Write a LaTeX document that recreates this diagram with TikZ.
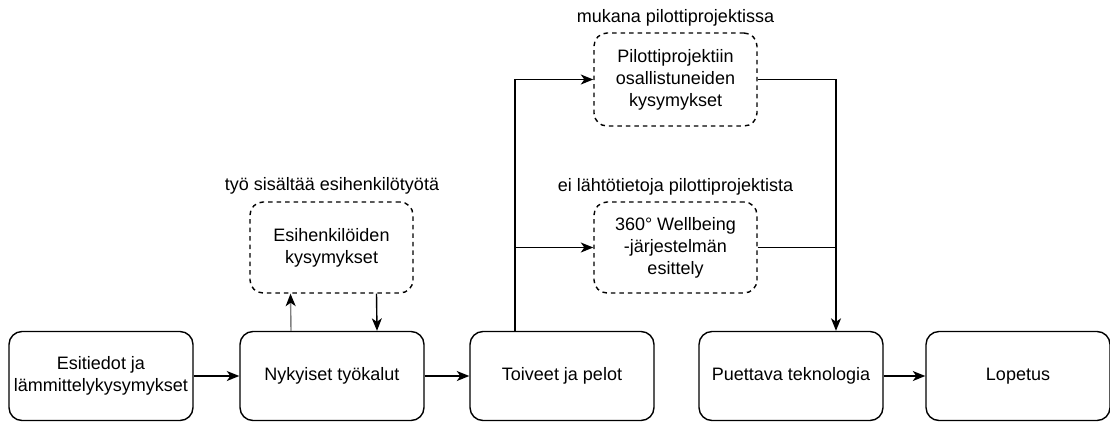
\documentclass[tikz,border=0pt]{standalone}
\usepackage{fontspec}
\setmainfont{Liberation Sans}
\usetikzlibrary{arrows.meta}
\definecolor{arrgray}{RGB}{128,128,128}
\begin{document}
\begin{tikzpicture}[x=1pt,y=-1pt,
  every node/.style={font=\fontsize{18pt}{22pt}\selectfont, align=center},
  mainbox/.style={draw, line width=1.4pt, rounded corners=13pt, minimum width=184pt, minimum height=89pt, inner sep=0pt},
  dbox/.style={draw, line width=1.4pt, dash pattern=on 4.5pt off 4pt, rounded corners=13pt, minimum width=163pt, minimum height=91pt, inner sep=0pt},
  lbl/.style={inner sep=0pt},
  arr/.style={line width=1.4pt, -{Stealth[length=12.5pt,width=10pt,inset=3.5pt]}},
  ln/.style={line width=1.4pt},
  grayarr/.style={line width=1.4pt, draw=arrgray, -{Stealth[length=12.5pt,width=10pt,inset=3.5pt,color=black]}}
]
\useasboundingbox (0,0) rectangle (1110,421);
% main boxes
\node[mainbox] (b1) at (101,376) {Esitiedot ja\\lämmittelykysymykset};
\node[mainbox] (b2) at (332,376) {Nykyiset työkalut};
\node[mainbox] (b3) at (562,376) {Toiveet ja pelot};
\node[mainbox] (b4) at (791,376) {Puettava teknologia};
\node[mainbox] (b5) at (1018,376) {Lopetus};
% dashed boxes
\node[dbox] (e) at (331.5,247.5) {Esihenkilöiden\\kysymykset};
\node[dbox, minimum height=93pt] (p) at (675.5,79.5) {Pilottiprojektiin\\osallistuneiden\\kysymykset};
\node[dbox] (q) at (675.5,247.5) {360° Wellbeing\\-järjestelmän\\esittely};
% labels
\node[lbl] (le) at (332,186) {työ sisältää esihenkilötyötä};
\node[lbl] (lp) at (675.5,18) {mukana pilottiprojektissa};
\node[lbl] (lq) at (675.5,187) {ei lähtötietoja pilottiprojektista};
% connectors
\draw[arr] (b1.east) -- (b2.west);
\draw[arr] (b2.east) -- (b3.west);
\draw[arr] (b4.east) -- (b5.west);
\draw[grayarr] ([xshift=-41pt]b2.north) -- ([xshift=-41pt]e.south);
\draw[arr] ([xshift=45pt]e.south) -- ([xshift=45pt]b2.north);
\coordinate (s) at ([xshift=-47pt]b3.north);
\draw[arr] (s) |- (p.west);
\draw[arr] (s) |- (q.west);
\coordinate (j) at ([xshift=45pt]b4.north);
\draw[arr] (p.east) -| (j);
\draw[ln] (q.east) -- (q.east -| j);
\end{tikzpicture}
\end{document}
